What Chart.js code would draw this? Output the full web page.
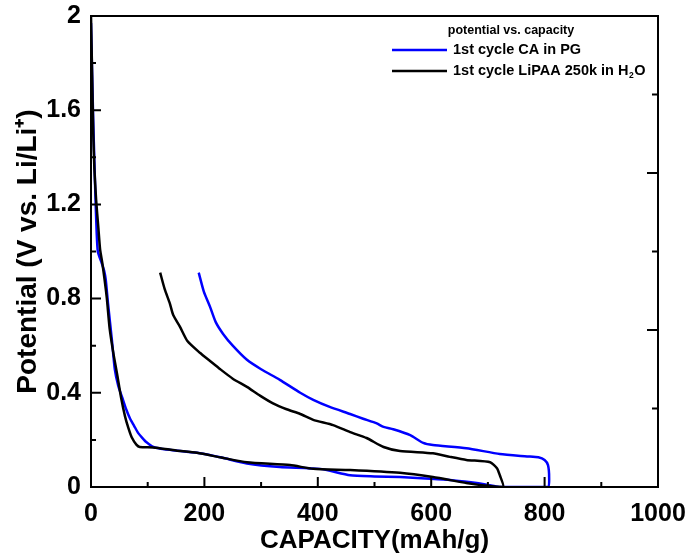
<!DOCTYPE html>
<html>
<head>
<meta charset="utf-8">
<script src="https://cdn.jsdelivr.net/npm/chart.js@4.4.0/dist/chart.umd.min.js"></script>
<style>
  html, body { margin: 0; padding: 0; background: #fff; }
  #wrap { width: 691px; height: 560px; }
</style>
</head>
<body>
<div id="wrap"><canvas id="myChart" width="691" height="560"></canvas></div>
<script>
// 1st cycle CA in PG: discharge, then charge back
const caCapacity = [0, 2, 4, 6, 8, 10, 12, 16, 19, 23, 26, 30, 37, 42, 48, 55, 62, 69, 76, 83, 90, 98, 110, 130, 150, 187, 230, 275, 333, 404, 457, 500, 545, 590, 633, 670, 698, 720, 760, 806,
  808, 806, 800, 789, 769, 721, 662, 603, 586, 563, 533, 516, 504, 480, 457, 421, 392, 369, 333, 300, 275, 250, 233, 220, 210, 199, 190];
const caPotential = [1.97, 1.75, 1.55, 1.38, 1.22, 1.08, 1.0, 0.97, 0.95, 0.92, 0.88, 0.78, 0.62, 0.5, 0.43, 0.38, 0.33, 0.29, 0.26, 0.23, 0.21, 0.19, 0.17, 0.16, 0.155, 0.145, 0.125, 0.1, 0.085, 0.077, 0.05, 0.045, 0.042, 0.036, 0.03, 0.02, 0.01, 0.0, 0.0, 0.0,
  0.04, 0.093, 0.115, 0.126, 0.13, 0.14, 0.165, 0.178, 0.187, 0.22, 0.245, 0.255, 0.27, 0.29, 0.31, 0.34, 0.37, 0.4, 0.455, 0.5, 0.54, 0.6, 0.65, 0.7, 0.765, 0.83, 0.91];

// 1st cycle LiPAA 250k in H2O
const paaCapacity = [0, 2, 4, 6, 9, 13, 16, 20, 24, 28, 33, 40, 46, 53, 60, 66, 72, 80, 86, 110, 150, 187, 230, 275, 351, 392, 457, 545, 603, 662, 698, 727,
  721, 716, 704, 662, 633, 603, 545, 516, 486, 457, 427, 392, 369, 345, 321, 298, 275, 250, 228, 210, 192, 170, 157, 145, 139, 130, 122];
const paaPotential = [2.0, 1.75, 1.5, 1.35, 1.22, 1.1, 1.01, 0.95, 0.88, 0.8, 0.67, 0.56, 0.48, 0.38, 0.3, 0.25, 0.21, 0.18, 0.17, 0.168, 0.155, 0.145, 0.125, 0.105, 0.093, 0.077, 0.072, 0.06, 0.042, 0.017, 0.005, 0.0,
  0.05, 0.08, 0.105, 0.115, 0.128, 0.143, 0.153, 0.17, 0.208, 0.233, 0.263, 0.285, 0.31, 0.33, 0.355, 0.388, 0.425, 0.46, 0.5, 0.535, 0.57, 0.62, 0.68, 0.73, 0.78, 0.84, 0.91];

const seriesLabels = ["1st cycle CA in PG", "1st cycle LiPAA 250k in H\u2082O"];
const seriesColors = ["#0000ff", "#000000"];
const legendTitle = "potential vs. capacity";

const FONT = "'Liberation Sans', Arial, sans-serif";

function toPoints(xs, ys) {
  return xs.map((x, i) => ({ x: x, y: ys[i] }));
}

// frame, inward ticks and the text legend
const framePlugin = {
  id: "frame",
  afterDraw(chart) {
    const { ctx, chartArea: a, scales } = chart;
    ctx.save();
    ctx.strokeStyle = "#000";
    ctx.lineWidth = 2;
    ctx.beginPath();
    scales.x.ticks.forEach((t) => {
      const px = scales.x.getPixelForValue(t.value);
      const len = Math.round(t.value) % 200 === 0 ? 10 : 5;
      ctx.moveTo(px, a.bottom);
      ctx.lineTo(px, a.bottom - len);
    });
    scales.y.ticks.forEach((t) => {
      const py = scales.y.getPixelForValue(t.value);
      const len = Math.round(t.value * 10) % 4 === 0 ? 10 : 5;
      ctx.moveTo(a.left, py);
      ctx.lineTo(a.left + len, py);
    });
    for (let k = scales.y2.min; k <= scales.y2.max; k++) {
      const py = scales.y2.getPixelForValue(k);
      const len = k % 2 === 0 ? 11 : 6;
      ctx.moveTo(a.right, py);
      ctx.lineTo(a.right - len, py);
    }
    ctx.stroke();
    ctx.strokeRect(a.left, a.top, a.right - a.left, a.bottom - a.top);

    // legend
    ctx.fillStyle = "#000";
    ctx.textBaseline = "middle";
    ctx.font = "bold 12.5px " + FONT;
    ctx.textAlign = "center";
    ctx.fillText(legendTitle, 511, 31);
    ctx.textAlign = "left";
    chart.data.datasets.forEach((ds, i) => {
      const y = 50 + i * 21;
      ctx.strokeStyle = ds.borderColor;
      ctx.lineWidth = 2.5;
      ctx.beginPath();
      ctx.moveTo(392, y);
      ctx.lineTo(447, y);
      ctx.stroke();
      let x = 453;
      const parts = ds.label.split("\u2082");
      parts.forEach((p, j) => {
        ctx.font = "bold 14.5px " + FONT;
        ctx.fillText(p, x, y);
        x += ctx.measureText(p).width;
        if (j < parts.length - 1) {
          ctx.font = "bold 8.5px " + FONT;
          ctx.fillText("2", x + 0.5, y + 5);
          x += ctx.measureText("2").width + 1;
        }
      });
    });
    ctx.restore();
  }
};

new Chart("myChart", {
  type: "scatter",
  data: {
    datasets: [
      {
        label: seriesLabels[1],
        data: toPoints(paaCapacity, paaPotential),
        borderColor: seriesColors[1],
        order: 0
      },
      {
        label: seriesLabels[0],
        data: toPoints(caCapacity, caPotential),
        borderColor: seriesColors[0],
        order: 1
      }
    ].map((d) => Object.assign(d, { showLine: true, borderWidth: 2.5, pointRadius: 0, tension: 0.2, fill: false }))
      .reverse()
  },
  options: {
    responsive: false,
    animation: false,
    layout: { padding: { top: 16, left: 0, right: 0, bottom: 0 } },
    plugins: { legend: { display: false }, tooltip: { enabled: false } },
    scales: {
      x: {
        type: "linear",
        min: 0,
        max: 1000,
        grid: { display: false, drawTicks: false },
        border: { display: false },
        ticks: {
          stepSize: 100,
          autoSkip: false,
          maxRotation: 0,
          padding: 12,
          color: "#000",
          font: { family: FONT, size: 25, weight: "bold" },
          callback: (v) => (Math.round(v) % 200 === 0 ? String(v) : "")
        },
        title: {
          display: true,
          text: "CAPACITY(mAh/g)",
          color: "#000",
          font: { family: FONT, size: 26, weight: "bold" }
        },
        afterFit: (s) => {
          s.height = 73;
          s.paddingLeft = 0;
          s.paddingRight = 0;
        }
      },
      y: {
        min: 0,
        max: 2,
        grid: { display: false, drawTicks: false },
        border: { display: false },
        ticks: {
          stepSize: 0.2,
          autoSkip: false,
          padding: 10,
          color: "#000",
          font: { family: FONT, size: 25, weight: "bold" },
          callback: (v) => (Math.round(v * 10) % 4 === 0 ? String(+v.toFixed(1)) : "")
        },
        title: {
          display: true,
          text: "Potential (V vs. Li/Li\u207A)",
          color: "#000",
          padding: { top: 11, bottom: 0 },
          font: { family: FONT, size: 28, weight: "bold" }
        },
        afterFit: (s) => {
          s.width = 91;
          s.paddingTop = 0;
          s.paddingBottom = 0;
        }
      },
      y2: {
        position: "right",
        display: true,
        min: 0,
        max: 6,
        grid: { display: false, drawTicks: false },
        border: { display: false },
        ticks: { display: false },
        afterFit: (s) => {
          s.width = 33;
          s.paddingTop = 0;
          s.paddingBottom = 0;
        }
      }
    }
  },
  plugins: [framePlugin]
});
</script>
</body>
</html>
